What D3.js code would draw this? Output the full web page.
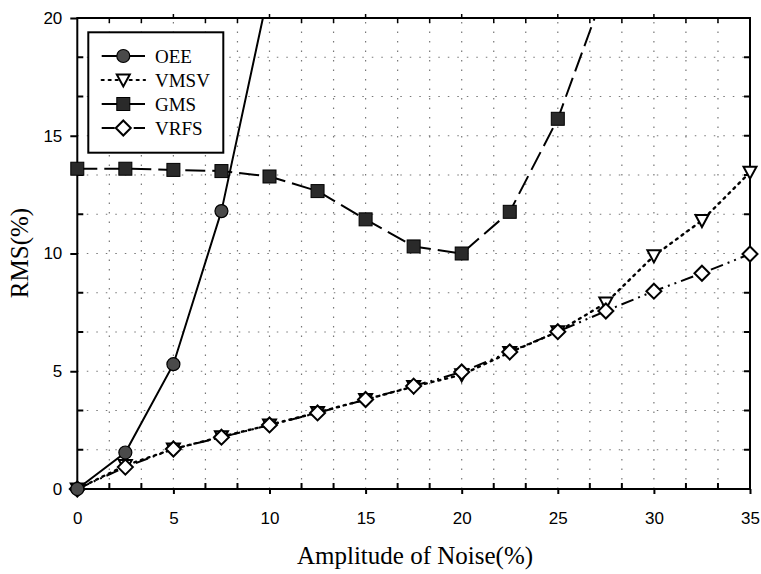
<!DOCTYPE html>
<html><head><meta charset="utf-8">
<script src="https://cdn.jsdelivr.net/npm/d3@7"></script>
<style>body{margin:0;background:#fff}svg{display:block}</style>
</head><body>
<script>
const xValues = [0, 2.5, 5, 7.5, 10, 12.5, 15, 17.5, 20, 22.5, 25, 27.5, 30, 32.5, 35];
const oeeX = [0, 2.5, 5, 7.5, 10];
const oeeY = [0, 1.55, 5.3, 11.8, 21.3];
const gmsX = [0, 2.5, 5, 7.5, 10, 12.5, 15, 17.5, 20, 22.5, 25, 27.5];
const gmsY = [13.6, 13.6, 13.55, 13.5, 13.27, 12.65, 11.45, 10.3, 10.0, 11.77, 15.72, 21.3];
const vmsvY = [0, 1.0, 1.7, 2.22, 2.72, 3.25, 3.8, 4.35, 4.85, 5.8, 6.68, 7.9, 9.9, 11.4, 13.45];
const vrfsY = [0, 0.93, 1.7, 2.2, 2.72, 3.23, 3.8, 4.37, 4.97, 5.82, 6.68, 7.56, 8.4, 9.16, 9.98];
const xTicks = [0, 5, 10, 15, 20, 25, 30, 35];
const yTicks = [0, 5, 10, 15, 20];
const seriesNames = ["OEE", "VMSV", "GMS", "VRFS"];

const W = 761, H = 574;
const svg = d3.select("body").append("svg").attr("width", W).attr("height", H);
const x = d3.scaleLinear().domain([0, 35]).range([77.3, 750]);
const y = d3.scaleLinear().domain([0, 20]).range([489, 18]);

const minor = d3.range(0, 35.01, 5/3).filter(v => Math.abs(v/5 - Math.round(v/5)) > 1e-6);
const minorY = d3.range(0, 20.01, 5/3).filter(v => Math.abs(v/5 - Math.round(v/5)) > 1e-6);
const allX = d3.range(0, 35.01, 5/3);
const allY = d3.range(0, 20.01, 5/3);

// grid
const g = svg.append("g");
g.selectAll(".gx").data(allX.slice(1, -1)).enter().append("line")
  .attr("x1", d => x(d)).attr("x2", d => x(d)).attr("y1", y(0)).attr("y2", y(20))
  .attr("stroke", "#777").attr("stroke-width", 1.2).attr("stroke-dasharray", "1.5,8");
g.selectAll(".gy").data(allY.slice(1, -1)).enter().append("line")
  .attr("y1", d => y(d)).attr("y2", d => y(d)).attr("x1", x(0)).attr("x2", x(35))
  .attr("stroke", "#777").attr("stroke-width", 1.2).attr("stroke-dasharray", "1.5,8");

// axes
const axB = d3.axisBottom(x).tickValues(xTicks).tickSize(5).tickPadding(18).tickFormat(d3.format("d"));
const axL = d3.axisLeft(y).tickValues(yTicks).tickSize(7).tickPadding(8).tickFormat(d3.format("d"));
const gb = svg.append("g").attr("transform", `translate(0,${y(0)})`).call(axB);
const gl = svg.append("g").attr("transform", `translate(${x(0)},0)`).call(axL);
[gb, gl].forEach(a => {
  a.select(".domain").remove();
  a.selectAll("line").attr("stroke", "#000").attr("stroke-width", 2);
  a.selectAll("text").attr("font-family", "Liberation Sans, Arial, sans-serif").attr("font-size", 17).attr("fill", "#000");
});
// minor inward ticks
svg.append("g").selectAll("line").data(minor).enter().append("line")
  .attr("x1", d => x(d)).attr("x2", d => x(d)).attr("y1", y(0)).attr("y2", y(0) - 6)
  .attr("stroke", "#000").attr("stroke-width", 2);
svg.append("g").selectAll("line").data(minor).enter().append("line")
  .attr("x1", d => x(d)).attr("x2", d => x(d)).attr("y1", y(20)).attr("y2", y(20) + 5)
  .attr("stroke", "#000").attr("stroke-width", 1.5);
svg.append("g").selectAll("line").data(minorY).enter().append("line")
  .attr("y1", d => y(d)).attr("y2", d => y(d)).attr("x1", x(0)).attr("x2", x(0) + 6)
  .attr("stroke", "#000").attr("stroke-width", 2);
svg.append("g").selectAll("line").data(minorY).enter().append("line")
  .attr("y1", d => y(d)).attr("y2", d => y(d)).attr("x1", x(35)).attr("x2", x(35) - 6)
  .attr("stroke", "#000").attr("stroke-width", 2);
svg.append("g").selectAll("line").data(yTicks.slice(1, -1)).enter().append("line")
  .attr("y1", d => y(d)).attr("y2", d => y(d)).attr("x1", x(35)).attr("x2", x(35) - 6)
  .attr("stroke", "#000").attr("stroke-width", 2);
svg.append("g").selectAll("line").data(xTicks.slice(1, -1)).enter().append("line")
  .attr("x1", d => x(d)).attr("x2", d => x(d)).attr("y1", y(20)).attr("y2", y(20) - 4)
  .attr("stroke", "#000").attr("stroke-width", 1.5);
// frame
svg.append("rect").attr("x", x(0)).attr("y", y(20)).attr("width", x(35) - x(0)).attr("height", y(0) - y(20))
  .attr("fill", "none").attr("stroke", "#000").attr("stroke-width", 2);

// clip
svg.append("clipPath").attr("id", "clip").append("rect")
  .attr("x", x(0) - 10).attr("y", y(20)).attr("width", x(35) - x(0) + 20).attr("height", y(0) - y(20) + 10);

const line = d3.line().x(d => x(d[0])).y(d => y(d[1]));
const plot = svg.append("g").attr("clip-path", "url(#clip)");

const oee = oeeX.map((v, i) => [v, oeeY[i]]);
const gms = gmsX.map((v, i) => [v, gmsY[i]]);
const vmsv = xValues.map((v, i) => [v, vmsvY[i]]);
const vrfs = xValues.map((v, i) => [v, vrfsY[i]]);

const styles = {
  OEE: {dash: null, data: oee},
  VMSV: {dash: "2,5", data: vmsv},
  GMS: {dash: "20,7", data: gms},
  VRFS: {dash: "13,5,2,5,2,5", data: vrfs}
};
["VMSV", "VRFS", "GMS", "OEE"].forEach(k => {
  plot.append("path").datum(styles[k].data).attr("d", line).attr("fill", "none")
    .attr("stroke", "#000").attr("stroke-width", k === "VMSV" ? 2.4 : 2)
    .attr("stroke-dasharray", styles[k].dash).attr("stroke-linecap", k === "VMSV" ? "round" : "butt");
});

function marker(sel, k) {
  if (k === "OEE") sel.append("circle").attr("r", 6.5).attr("fill", "#4a4a4a").attr("stroke", "#000").attr("stroke-width", 1.2);
  else if (k === "GMS") sel.append("rect").attr("x", -6.5).attr("y", -6.5).attr("width", 13).attr("height", 13).attr("fill", "#2a2a2a").attr("stroke", "#000");
  else if (k === "VMSV") sel.append("path").attr("d", "M-6.5,-5.5L6.5,-5.5L0,6.5Z").attr("fill", "#fff").attr("stroke", "#000").attr("stroke-width", 2);
  else sel.append("path").attr("d", "M0,-7.5L7.5,0L0,7.5L-7.5,0Z").attr("fill", "#fff").attr("stroke", "#000").attr("stroke-width", 2);
}
["VMSV", "VRFS", "GMS", "OEE"].forEach(k => {
  const pts = styles[k].data.filter(d => d[1] <= 20);
  pts.forEach(d => {
    const m = svg.append("g").attr("transform", `translate(${x(d[0])},${y(d[1])})`);
    marker(m, k);
  });
});

// legend
const lg = svg.append("g");
lg.append("rect").attr("x", 88.3).attr("y", 32.3).attr("width", 135).attr("height", 120.4)
  .attr("fill", "#fff").attr("stroke", "#000").attr("stroke-width", 2);
seriesNames.forEach((k, i) => {
  const yy = 56 + i * 24;
  lg.append("line").attr("x1", 101.7).attr("x2", 145).attr("y1", yy).attr("y2", yy)
    .attr("stroke", "#000").attr("stroke-width", k === "VMSV" ? 2.2 : 2)
    .attr("stroke-dasharray", k === "VMSV" ? "2,5" : k === "VRFS" ? "13,5,2,5,2,5" : k === "GMS" ? null : null)
    .attr("stroke-linecap", k === "VMSV" ? "round" : "butt");
  const m = lg.append("g").attr("transform", `translate(123.3,${yy})`);
  marker(m, k);
  lg.append("text").attr("x", 155).attr("y", yy + 6.5).text(k)
    .attr("font-family", "Liberation Serif, Times New Roman, serif").attr("font-size", 19).attr("fill", "#000");
});

// titles
svg.append("text").attr("x", 415).attr("y", 564).attr("text-anchor", "middle")
  .attr("font-family", "Liberation Serif, Times New Roman, serif").attr("font-size", 25).text("Amplitude of Noise(%)");
svg.append("text").attr("transform", "translate(28,253) rotate(-90)").attr("text-anchor", "middle")
  .attr("font-family", "Liberation Serif, Times New Roman, serif").attr("font-size", 25).text("RMS(%)");
</script>
</body></html>
